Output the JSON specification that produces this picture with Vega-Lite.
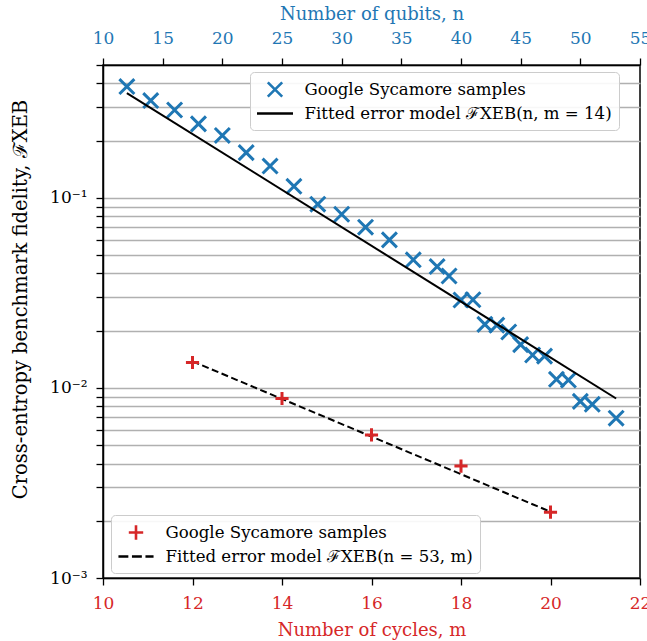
{
  "$schema": "https://vega.github.io/schema/vega-lite/v6.json",
  "width": 537,
  "height": 513,
  "autosize": "none",
  "padding": {"left": 103, "top": 65, "right": 7, "bottom": 63},
  "background": "white",
  "config": {
    "font": "DejaVu Serif",
    "view": {"stroke": "black", "strokeWidth": 1.5},
    "axis": {
      "labelFont": "DejaVu Serif", "titleFont": "DejaVu Serif",
      "labelFontSize": 17, "titleFontSize": 18, "titleFontWeight": "normal",
      "domainColor": "black", "domainWidth": 1.5, "tickColor": "black", "tickWidth": 1.3, "tickSize": 7,
      "labelColor": "black", "titleColor": "black", "grid": false, "labelFlush": false
    },
    "legend": {"labelFont": "DejaVu Serif", "labelFontSize": 16.6, "labelColor": "black", "labelLimit": 500}
  },
  "datasets": {
    "blue": [
      {"n": 12, "F": 0.385, "s": "Google Sycamore samples"},
      {"n": 14, "F": 0.325, "s": "Google Sycamore samples"},
      {"n": 16, "F": 0.29, "s": "Google Sycamore samples"},
      {"n": 18, "F": 0.245, "s": "Google Sycamore samples"},
      {"n": 20, "F": 0.213, "s": "Google Sycamore samples"},
      {"n": 22, "F": 0.173, "s": "Google Sycamore samples"},
      {"n": 24, "F": 0.147, "s": "Google Sycamore samples"},
      {"n": 26, "F": 0.115, "s": "Google Sycamore samples"},
      {"n": 28, "F": 0.0926, "s": "Google Sycamore samples"},
      {"n": 30, "F": 0.082, "s": "Google Sycamore samples"},
      {"n": 32, "F": 0.0701, "s": "Google Sycamore samples"},
      {"n": 34, "F": 0.0601, "s": "Google Sycamore samples"},
      {"n": 36, "F": 0.0472, "s": "Google Sycamore samples"},
      {"n": 38, "F": 0.0435, "s": "Google Sycamore samples"},
      {"n": 39, "F": 0.0388, "s": "Google Sycamore samples"},
      {"n": 40, "F": 0.029, "s": "Google Sycamore samples"},
      {"n": 41, "F": 0.0291, "s": "Google Sycamore samples"},
      {"n": 42, "F": 0.0216, "s": "Google Sycamore samples"},
      {"n": 43, "F": 0.0214, "s": "Google Sycamore samples"},
      {"n": 44, "F": 0.0197, "s": "Google Sycamore samples"},
      {"n": 45, "F": 0.0169, "s": "Google Sycamore samples"},
      {"n": 46, "F": 0.0149, "s": "Google Sycamore samples"},
      {"n": 47, "F": 0.0147, "s": "Google Sycamore samples"},
      {"n": 48, "F": 0.0111, "s": "Google Sycamore samples"},
      {"n": 49, "F": 0.011, "s": "Google Sycamore samples"},
      {"n": 50, "F": 0.0085, "s": "Google Sycamore samples"},
      {"n": 51, "F": 0.0082, "s": "Google Sycamore samples"},
      {"n": 53, "F": 0.00693, "s": "Google Sycamore samples"}
    ],
    "fitA": [
      {"n": 12, "F": 0.356, "s": "Fitted error model ℱXEB(n, m = 14)"},
      {"n": 53, "F": 0.0088, "s": "Fitted error model ℱXEB(n, m = 14)"}
    ],
    "red": [
      {"m": 12, "F": 0.0136, "s": "Google Sycamore samples"},
      {"m": 14, "F": 0.0088, "s": "Google Sycamore samples"},
      {"m": 16, "F": 0.00566, "s": "Google Sycamore samples"},
      {"m": 18, "F": 0.00388, "s": "Google Sycamore samples"},
      {"m": 20, "F": 0.00222, "s": "Google Sycamore samples"}
    ],
    "fitB": [
      {"m": 12, "F": 0.0138, "s": "Fitted error model ℱXEB(n = 53, m)"},
      {"m": 20, "F": 0.00223, "s": "Fitted error model ℱXEB(n = 53, m)"}
    ]
  },
  "encoding": {
    "y": {
      "field": "F", "type": "quantitative",
      "scale": {"type": "log", "domain": [0.001, 0.5], "nice": false},
      "axis": {
        "title": "Cross-entropy benchmark fidelity, ℱXEB",
        "values": [0.001, 0.002, 0.003, 0.004, 0.005, 0.006, 0.007, 0.008, 0.009, 0.01, 0.02, 0.03, 0.04, 0.05, 0.06, 0.07, 0.08, 0.09, 0.1, 0.2, 0.3, 0.4, 0.5],
        "labelExpr": "datum.value == 0.1 ? '10⁻¹' : datum.value == 0.01 ? '10⁻²' : datum.value == 0.001 ? '10⁻³' : ''",
        "labelOverlap": false,
        "grid": true, "gridColor": "#b0b0b0", "gridWidth": 1.3,
        "labelPadding": 9, "titlePadding": 19, "titleFontSize": 19.5, "titleY": 234
      }
    }
  },
  "layer": [
    {
      "layer": [
        {
          "data": {"name": "blue"},
          "mark": {"type": "point", "filled": false, "strokeWidth": 3, "size": 350, "opacity": 1},
          "encoding": {
            "x": {
              "field": "n", "type": "quantitative",
              "scale": {"domain": [10, 55], "nice": false},
              "axis": {"orient": "top", "values": [10, 15, 20, 25, 30, 35, 40, 45, 50, 55], "title": "Number of qubits, n", "labelColor": "#1f77b4", "titleColor": "#1f77b4", "labelPadding": 11, "titlePadding": 6}
            },
            "color": {
              "field": "s", "type": "nominal",
              "scale": {"domain": ["Google Sycamore samples", "Fitted error model ℱXEB(n, m = 14)"], "range": ["#1f77b4", "black"]},
              "legend": {"title": null, "orient": "none", "legendX": 147, "legendY": 7, "padding": 7, "symbolSize": 324, "symbolOffset": 7.5, "labelOffset": 19, "rowPadding": 1, "symbolStrokeWidth": 2.6, "fillColor": "rgba(255,255,255,0.9)", "strokeColor": "#cccccc", "cornerRadius": 4}
            },
            "shape": {
              "field": "s", "type": "nominal",
              "scale": {"domain": ["Google Sycamore samples", "Fitted error model ℱXEB(n, m = 14)"], "range": ["M-0.8,-0.8L0.8,0.8M-0.8,0.8L0.8,-0.8", "M-2,0L2,0"]},
              "legend": {"title": null, "orient": "none", "legendX": 147, "legendY": 7, "padding": 7, "symbolSize": 324, "symbolOffset": 7.5, "labelOffset": 19, "rowPadding": 1, "symbolStrokeWidth": 2.6, "fillColor": "rgba(255,255,255,0.9)", "strokeColor": "#cccccc", "cornerRadius": 4}
            }
          }
        },
        {
          "data": {"name": "fitA"},
          "mark": {"type": "line", "strokeWidth": 2},
          "encoding": {
            "x": {"field": "n", "type": "quantitative"},
            "color": {"field": "s", "type": "nominal"}
          }
        }
      ]
    },
    {
      "layer": [
        {
          "data": {"name": "fitB"},
          "mark": {"type": "line", "strokeWidth": 2, "strokeDash": [7, 3.5]},
          "encoding": {
            "x": {"field": "m", "type": "quantitative"},
            "color": {"field": "s", "type": "nominal"}
          }
        },
        {
          "data": {"name": "red"},
          "mark": {"type": "point", "filled": false, "strokeWidth": 3, "size": 270, "opacity": 1},
          "encoding": {
            "x": {
              "field": "m", "type": "quantitative",
              "scale": {"domain": [10, 22], "nice": false},
              "axis": {"orient": "bottom", "values": [10, 12, 14, 16, 18, 20, 22], "title": "Number of cycles, m", "labelColor": "#d62728", "titleColor": "#d62728", "labelPadding": 10, "titlePadding": 10}
            },
            "color": {
              "field": "s", "type": "nominal",
              "scale": {"domain": ["Google Sycamore samples", "Fitted error model ℱXEB(n = 53, m)"], "range": ["#d62728", "black"]},
              "legend": {"title": null, "orient": "none", "legendX": 8, "legendY": 450, "padding": 7, "symbolSize": 324, "symbolOffset": 7.5, "labelOffset": 19, "rowPadding": 1, "symbolStrokeWidth": 2.6, "fillColor": "rgba(255,255,255,0.9)", "strokeColor": "#cccccc", "cornerRadius": 4}
            },
            "shape": {
              "field": "s", "type": "nominal",
              "scale": {"domain": ["Google Sycamore samples", "Fitted error model ℱXEB(n = 53, m)"], "range": ["M-0.8,0L0.8,0M0,-0.8L0,0.8", "M-1.95,0L-0.85,0M-0.45,0L0.65,0M1.05,0L1.95,0"]},
              "legend": {"title": null, "orient": "none", "legendX": 8, "legendY": 450, "padding": 7, "symbolSize": 324, "symbolOffset": 7.5, "labelOffset": 19, "rowPadding": 1, "symbolStrokeWidth": 2.6, "fillColor": "rgba(255,255,255,0.9)", "strokeColor": "#cccccc", "cornerRadius": 4}
            }
          }
        }
      ]
    }
  ],
  "resolve": {"scale": {"x": "independent", "color": "independent", "shape": "independent"}}
}
